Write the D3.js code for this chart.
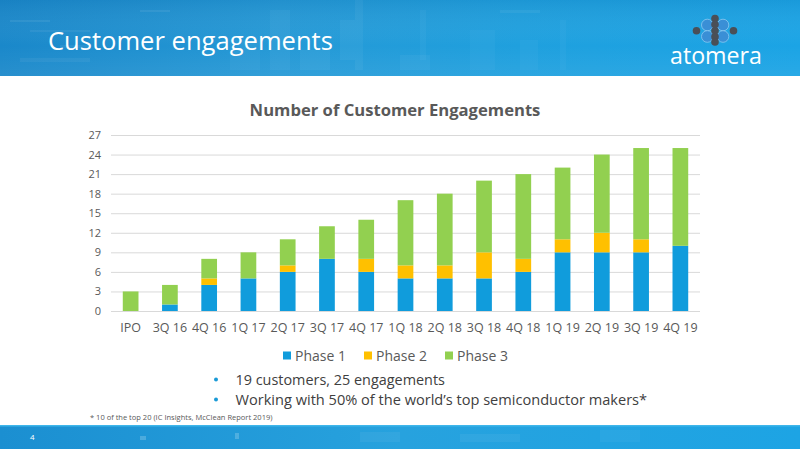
<!DOCTYPE html>
<html>
<head>
<meta charset="utf-8">
<script src="https://cdn.jsdelivr.net/npm/d3@7"></script>
<style>
html,body{margin:0;padding:0;background:#fff;}
svg{display:block;font-family:"Open Sans","Noto Sans",sans-serif;}
</style>
</head>
<body>
<svg id="c" width="800" height="449"></svg>
<script>
const categories = ["IPO","3Q 16","4Q 16","1Q 17","2Q 17","3Q 17","4Q 17","1Q 18","2Q 18","3Q 18","4Q 18","1Q 19","2Q 19","3Q 19","4Q 19"];
const phase1 = [0,1,4,5,6,8,6,5,5,5,6,9,9,9,10];
const phase2 = [0,0,1,0,1,0,2,2,2,4,2,2,3,2,0];
const phase3 = [3,3,3,4,4,5,6,10,11,11,13,11,12,14,15];
const seriesNames = ["Phase 1","Phase 2","Phase 3"];
const seriesColors = ["#109cdc","#ffc000","#92d050"];
const yTicks = [0,3,6,9,12,15,18,21,24,27];
const pageTitle = "Customer engagements";
const chartTitle = "Number of Customer Engagements";
const bullets = ["19 customers, 25 engagements","Working with 50% of the world\u2019s top semiconductor makers*"];
const footnote = "* 10 of the top 20 (IC Insights, McClean Report 2019)";

const svg = d3.select("#c");
const defs = svg.append("defs");

function fit(sel, target){
  const base = parseFloat(sel.attr("font-size"));
  const w = sel.node().getComputedTextLength();
  if (w > 0) sel.attr("font-size", base * target / w);
  return sel;
}

// header band
const hg = defs.append("linearGradient").attr("id","hg").attr("x1","0").attr("x2","1").attr("y1","0").attr("y2","0");
hg.append("stop").attr("offset","0").attr("stop-color","#1a88ca");
hg.append("stop").attr("offset","0.35").attr("stop-color","#2599d6");
hg.append("stop").attr("offset","0.65").attr("stop-color","#1fa0de");
hg.append("stop").attr("offset","1").attr("stop-color","#1ba4e5");
const vg = defs.append("linearGradient").attr("id","vg").attr("x1","0").attr("x2","0").attr("y1","0").attr("y2","1");
vg.append("stop").attr("offset","0").attr("stop-color","#0a4f8a").attr("stop-opacity","0.12");
vg.append("stop").attr("offset","0.6").attr("stop-color","#ffffff").attr("stop-opacity","0.0");
vg.append("stop").attr("offset","1").attr("stop-color","#ffffff").attr("stop-opacity","0.06");

svg.append("rect").attr("x",0).attr("y",0).attr("width",800).attr("height",76).attr("fill","url(#hg)");
svg.append("rect").attr("x",0).attr("y",0).attr("width",800).attr("height",76).attr("fill","url(#vg)");
// faint tech texture
const tex = svg.append("g").attr("fill","#ffffff");
[[10,20,40,2,.07],[30,30,60,2,.06],[60,45,30,3,.06],[20,58,70,4,.05],[140,10,30,2,.07],[230,40,30,30,.035],[270,10,20,60,.04],[300,50,30,20,.045],[340,20,15,40,.045],[355,0,8,70,.045],[400,55,30,15,.04],[420,10,6,50,.035],[470,30,25,40,.03],[500,10,40,3,.05],[520,40,18,30,.03],[560,20,6,50,.03]].forEach(r=>{
  tex.append("rect").attr("x",r[0]).attr("y",r[1]).attr("width",r[2]).attr("height",r[3]).attr("opacity",r[4]);
});

const t1 = svg.append("text").attr("x",48).attr("y",50).attr("font-size",28).attr("fill","#ffffff").text(pageTitle);
fit(t1,285);

// logo
const logo = svg.append("g");
[[707.3,25],[707.3,36.5],[723,25],[723,36.5]].forEach(p=>{
  logo.append("circle").attr("cx",p[0]).attr("cy",p[1]).attr("r",5.8).attr("fill","#3a8fd6").attr("stroke","#8cc8f0").attr("stroke-width",0.8);
});
[[696.5,30.7],[733.5,30.7],[715,18.5],[715,24.6],[715,30.7],[715,36.8],[715,42]].forEach(p=>{
  logo.append("circle").attr("cx",p[0]).attr("cy",p[1]).attr("r",3.8).attr("fill","#4a4f57");
});
const lt = svg.append("text").attr("x",670).attr("y",64).attr("font-size",22).attr("fill","#ffffff").text("atomera");
fit(lt,92);

// footer band
const fg = defs.append("linearGradient").attr("id","fg").attr("x1","0").attr("x2","1").attr("y1","0").attr("y2","0");
fg.append("stop").attr("offset","0").attr("stop-color","#1b8fd1");
fg.append("stop").attr("offset","0.5").attr("stop-color","#27a2de");
fg.append("stop").attr("offset","1").attr("stop-color","#1da4e4");
svg.append("rect").attr("x",0).attr("y",425).attr("width",800).attr("height",24).attr("fill","url(#fg)");
svg.append("rect").attr("x",0).attr("y",425).attr("width",800).attr("height",1.5).attr("fill","#3fb6ea");
const ftex = svg.append("g").attr("fill","#ffffff");
[[140,436,6,4,.2],[235,433,4,6,.2],[360,432,40,10,.05],[460,434,60,8,.05],[600,430,40,12,.04]].forEach(r=>{
  ftex.append("rect").attr("x",r[0]).attr("y",r[1]).attr("width",r[2]).attr("height",r[3]).attr("opacity",r[4]);
});
svg.append("text").attr("x",30).attr("y",440).attr("font-size",8).attr("fill","#ffffff").text("4");

// chart
const x = d3.scaleBand().domain(categories).range([111,700]).paddingInner(0.6).paddingOuter(0.3);
const y = d3.scaleLinear().domain([0,27]).range([311,135]);

const ct = svg.append("text").attr("x",395).attr("y",116).attr("text-anchor","middle").attr("font-size",17).attr("font-weight","bold").attr("fill","#595959").text(chartTitle);
fit(ct,291);

// grid
const yAxis = d3.axisLeft(y).tickValues(yTicks).tickSize(-(700-111)).tickPadding(10).tickFormat(d3.format("d"));
const gy = svg.append("g").attr("transform","translate(111,0)").call(yAxis);
gy.select(".domain").remove();
gy.selectAll(".tick line").attr("stroke","#d9d9d9").attr("stroke-width",1);
gy.selectAll(".tick text").attr("fill","#595959").attr("font-size",11).attr("font-family","'Open Sans',sans-serif");

const data = categories.map((c,i)=>({cat:c, "Phase 1":phase1[i], "Phase 2":phase2[i], "Phase 3":phase3[i]}));
const stack = d3.stack().keys(seriesNames)(data);
svg.append("g").selectAll("g").data(stack).join("g")
  .attr("fill",(d,i)=>seriesColors[i])
  .selectAll("rect").data(d=>d).join("rect")
  .attr("x",d=>x(d.data.cat))
  .attr("width",x.bandwidth())
  .attr("y",d=>y(d[1]))
  .attr("height",d=>y(d[0])-y(d[1]));

const xAxis = d3.axisBottom(x).tickSize(0).tickPadding(0);
const gx = svg.append("g").attr("transform","translate(0,332)").call(xAxis);
gx.select(".domain").remove();
gx.selectAll(".tick text").attr("fill","#595959").attr("font-size",12.5).attr("dy",0).attr("font-family","'Open Sans',sans-serif");

// legend
const legX = [283,364,445];
const lg = svg.append("g");
seriesNames.forEach((n,i)=>{
  lg.append("rect").attr("x",legX[i]).attr("y",351.5).attr("width",8).attr("height",8).attr("fill",seriesColors[i]);
  const tt = lg.append("text").attr("x",legX[i]+12).attr("y",360.5).attr("font-size",13).attr("fill","#595959").text(n);
  fit(tt,51);
});

// bullets
const by = [385,405];
bullets.forEach((b,i)=>{
  svg.append("circle").attr("cx",216).attr("cy",by[i]-5.5).attr("r",2).attr("fill","#1a9ad6");
  const bt = svg.append("text").attr("x",235.5).attr("y",by[i]).attr("font-size",15).attr("fill","#404040").text(b);
  fit(bt, i===0 ? 209.5 : 412);
});

const fn = svg.append("text").attr("x",90).attr("y",419.5).attr("font-size",7).attr("fill","#595959").text(footnote);
fit(fn,183);
</script>
</body>
</html>
